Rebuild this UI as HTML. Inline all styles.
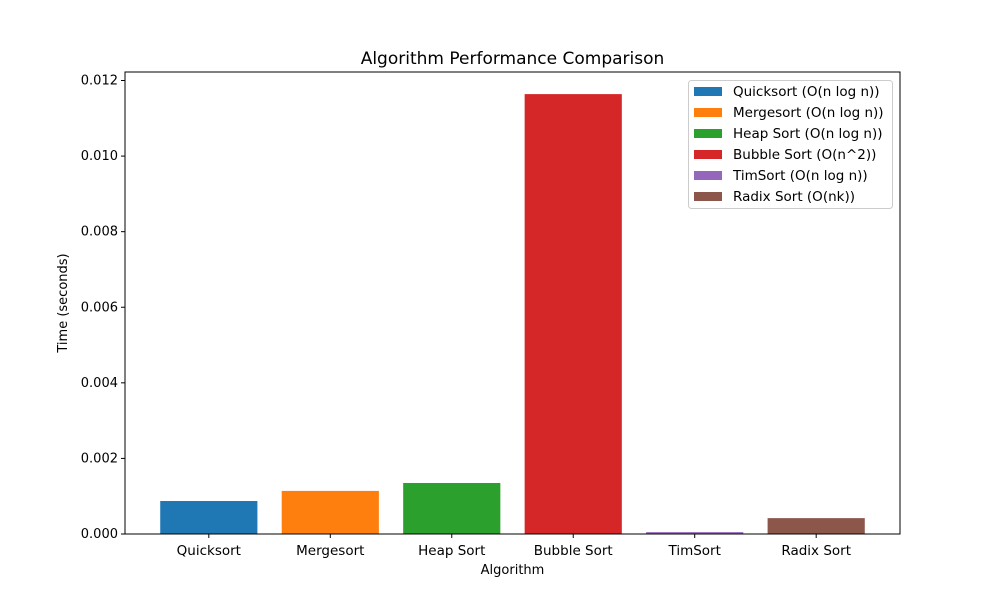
<!DOCTYPE html>
<html><head><meta charset="utf-8"><style>
body{margin:0;background:#fff;}
svg text{font-family:"DejaVu Sans","Liberation Sans",sans-serif;fill:#000;}
</style></head><body>
<svg id="c" width="1000" height="600" xmlns="http://www.w3.org/2000/svg">
<rect width="1000" height="600" fill="#fff"/>
<text x="512.5" y="64" font-size="17" text-anchor="middle">Algorithm Performance Comparison</text>
<g id="bars"></g>
<g id="axes"></g>
<text x="512.5" y="574" font-size="13" text-anchor="middle">Algorithm</text>
<text transform="translate(67,303) rotate(-90)" font-size="13" text-anchor="middle">Time (seconds)</text>
<g id="legend"></g>
</svg>
<script>
const categories=["Quicksort","Mergesort","Heap Sort","Bubble Sort","TimSort","Radix Sort"];
const times=[0.000873,0.00114,0.00135,0.01164,0.00005,0.00042];
const legendLabels=["Quicksort (O(n log n))","Mergesort (O(n log n))","Heap Sort (O(n log n))","Bubble Sort (O(n^2))","TimSort (O(n log n))","Radix Sort (O(nk))"];
const yTicks=[0,0.002,0.004,0.006,0.008,0.010,0.012];
const colors=["#1f77b4","#ff7f0e","#2ca02c","#d62728","#9467bd","#8c564b"];
const L=125,R=900,T=72,B=534;
const ns="http://www.w3.org/2000/svg";
const n=categories.length;
const xmin=-0.4-0.05*(n-0.2),xmax=n-1+0.4+0.05*(n-0.2);
const ymax=0.012225;
const xs=v=>L+(v-xmin)/(xmax-xmin)*(R-L);
const ys=v=>B-v/ymax*(B-T);
function mk(t,a,p){const e=document.createElementNS(ns,t);for(const k in a)e.setAttribute(k,a[k]);p.appendChild(e);return e;}
const bars=document.getElementById('bars'),axes=document.getElementById('axes'),leg=document.getElementById('legend');
times.forEach((v,i)=>{
 const r=mk('rect',{x:xs(i-0.4),y:ys(v),width:xs(i+0.4)-xs(i-0.4),height:B-ys(v),fill:colors[i]},bars);
 
 
 mk('line',{x1:xs(i),x2:xs(i),y1:B,y2:B+4,stroke:'#000'},axes);
 const t=mk('text',{x:xs(i),y:B+21,'font-size':13.5,'text-anchor':'middle'},axes);t.textContent=categories[i];
 
 
});
yTicks.forEach(v=>{
 const y=ys(v);
 mk('line',{x1:L-4,x2:L,y1:y,y2:y,stroke:'#000'},axes);
 const t=mk('text',{x:L-7,y:y+4,'font-size':13,'text-anchor':'end'},axes);t.textContent=v.toFixed(3);
 
 
});
const fr=mk('rect',{x:L,y:T,width:R-L,height:B-T,fill:'none',stroke:'#000','stroke-width':1},axes);


const lb=mk('rect',{x:688.5,y:80.5,width:204,height:128,fill:'#fff',stroke:'#ccc',rx:3},leg);


legendLabels.forEach((s,i)=>{
 const y=91+i*21;
 const g=mk('g',{},leg);
 
 
 mk('rect',{x:694,y:y-4,width:28,height:9,fill:colors[i]},g);
 const t=mk('text',{x:733,y:y+5,'font-size':13.5},g);t.textContent=s;
});
</script>
</body></html>
